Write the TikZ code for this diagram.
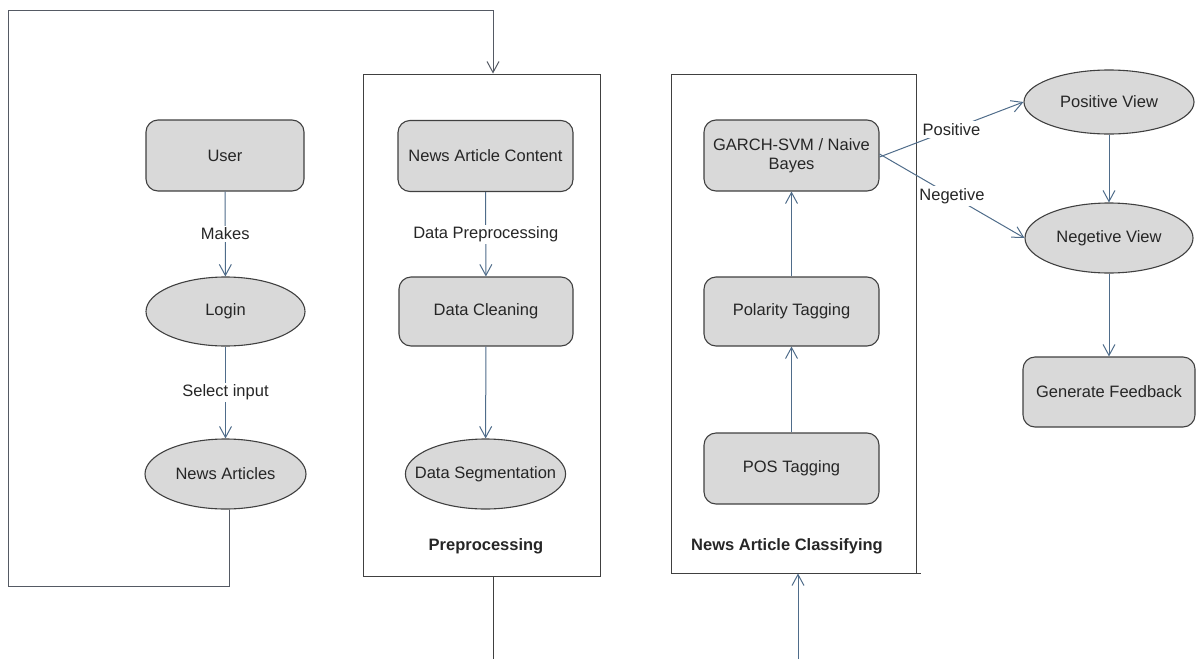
\documentclass[tikz,border=0pt]{standalone}
\usepackage{fontspec}
\setmainfont{Liberation Sans}
\usetikzlibrary{shapes.geometric,arrows.meta}
\definecolor{edgeblue}{RGB}{79,108,138}
\definecolor{boxfill}{RGB}{217,217,217}
\definecolor{frame}{RGB}{64,64,64}
\definecolor{loopgray}{RGB}{85,90,100}
\definecolor{ink}{RGB}{38,38,38}

\begin{document}
\begin{tikzpicture}[x=1pt,y=-1pt,
  font=\fontsize{16.5}{19}\selectfont,
  every node/.style={text=ink},
  procbox/.style={draw=frame,fill=boxfill,rounded corners=12pt,line width=1.1pt,
    minimum width=175pt,minimum height=71pt,inner sep=2pt,align=center},
  ovalbox/.style={ellipse,draw=frame,fill=boxfill,line width=1.1pt,
    minimum width=160pt,minimum height=70pt,inner sep=0pt},
  stage/.style={draw=frame,line width=1pt,inner sep=0pt},
  flow/.style={draw=edgeblue,line width=1pt,
    -{Straight Barb[length=11pt,width=12pt,line width=1pt]}},
  lbl/.style={fill=white,inner sep=2pt},
  stagetitle/.style={font=\fontsize{16.5}{19}\selectfont\bfseries}
]
\useasboundingbox (0,0) rectangle (1196,659);

% stage frames
\node[stage,minimum width=236.5pt,minimum height=502pt] (prep) at (481.75,325) {};
\node[stage,minimum width=245pt,minimum height=499pt] (cls) at (793.5,323.5) {};
\node[stagetitle] (preptitle) at (486,546) {Preprocessing};
\node[stagetitle] (clstitle) at (787,546) {News Article Classifying};
\draw[frame,line width=1pt] (cls.south east) -- ++(4,0);

% user column
\node[procbox,minimum width=158pt] (user) at (225,155.5) {User};
\node[ovalbox,minimum width=159pt,minimum height=69pt] (login) at (225.5,311.5) {Login};
\node[ovalbox,minimum width=161pt] (news) at (225.5,474) {News Articles};

% preprocessing column
\node[procbox] (content) at (485.5,156) {News Article Content};
\node[procbox,minimum width=174pt,minimum height=69pt] (clean) at (486,311.5) {Data Cleaning};
\node[ovalbox,minimum width=159pt,inner xsep=-14pt] (seg) at (485.5,474) {Data Segmentation};

% classifying column
\node[procbox] (garch) at (791.5,155.5) {GARCH-SVM / Naive\\Bayes};
\node[procbox,minimum height=69pt] (polar) at (791.5,311.5) {Polarity Tagging};
\node[procbox] (pos) at (791.5,468.5) {POS Tagging};

% views and feedback
\node[ovalbox,minimum width=170pt,minimum height=64pt] (posview) at (1109,102) {Positive View};
\node[ovalbox,minimum width=168pt,minimum height=70pt] (negview) at (1109,238) {Negetive View};
\node[procbox,minimum width=172pt,minimum height=70pt] (feedback) at (1109,392) {Generate Feedback};

% flow inside the user column
\draw[flow] (user) -- node[lbl] {Makes} (login);
\draw[flow] (login) -- node[lbl] {Select input} (news);

% loop from the articles back into preprocessing
\coordinate (loopdown) at (229,586);
\coordinate (loopleft) at (8,586);
\coordinate (looptop) at (8,10);
\coordinate (prepin) at ([xshift=11.25pt]prep.north);
\draw[flow,draw=loopgray] ([xshift=3.5pt]news.south) -- (loopdown) -- (loopleft)
  -- (looptop) -| (prepin);

% preprocessing steps
\draw[flow] (content) -- node[lbl] {Data Preprocessing} (clean);
\draw[flow] (clean) -- (seg);

% output of preprocessing and input of classification
\coordinate (prepout) at (493,659);
\draw[frame,line width=1pt] ([xshift=11.25pt]prep.south) -- (prepout);
\coordinate (clsin) at (798,659);
\draw[flow] (clsin) -- (clsin |- cls.south);

% classification steps
\draw[flow] (pos) -- (polar);
\draw[flow] (polar) -- (garch);
\draw[flow] ([yshift=-1.5pt]garch.east) -- node[lbl] {Positive} (posview.west);
\draw[flow] ([yshift=1.5pt]garch.east) -- node[lbl] {Negetive} (negview.west);

% views to feedback
\draw[flow] (posview) -- (negview);
\draw[flow] (negview) -- (feedback);
\end{tikzpicture}
\end{document}
